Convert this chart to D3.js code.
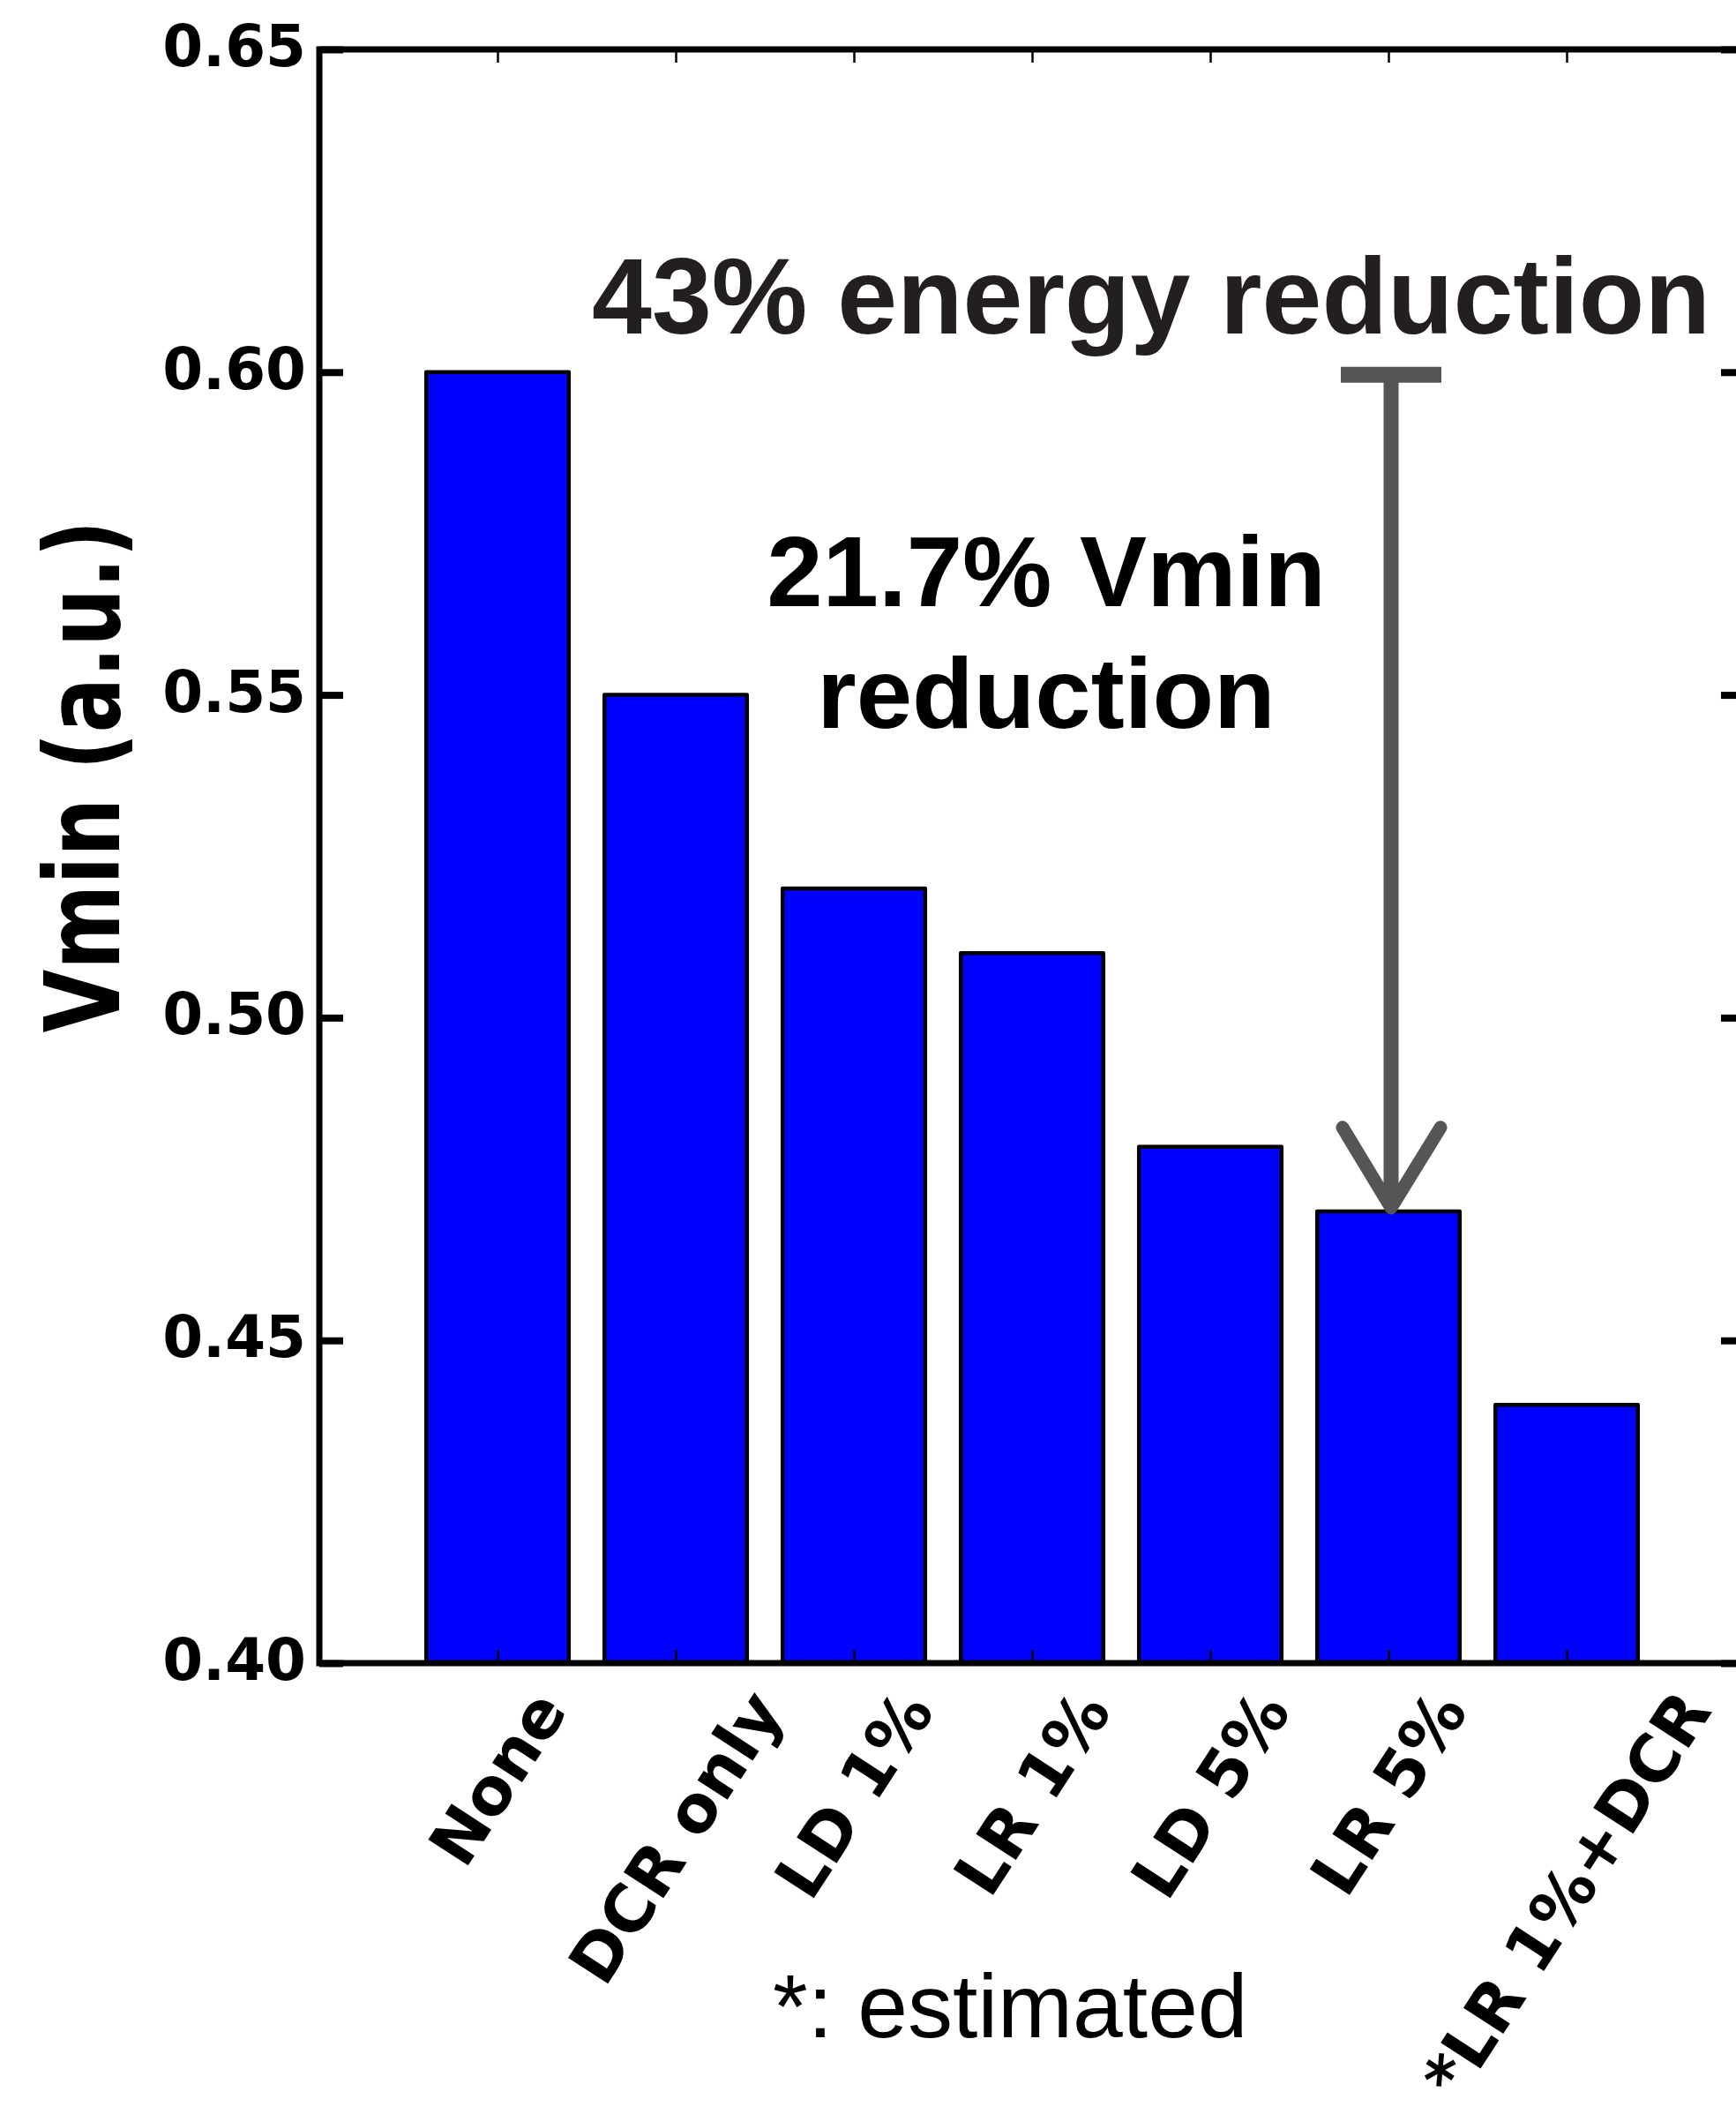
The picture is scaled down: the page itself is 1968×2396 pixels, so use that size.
<!DOCTYPE html>
<html>
<head>
<meta charset="utf-8">
<script src="https://cdn.jsdelivr.net/npm/d3@7"></script>
<style>
  html, body { margin: 0; padding: 0; background: #fff; }
  svg { display: block; }
</style>
</head>
<body>
<script>
// Vmin per technique (a.u.)
const categories = ["None", "DCR only", "LD 1%", "LR 1%", "LD 5%", "LR 5%", "*LR 1%+DCR"];
const vmin = [0.60, 0.55, 0.52, 0.51, 0.48, 0.47, 0.44];
const yTicks = [0.40, 0.45, 0.50, 0.55, 0.60, 0.65];
const energyNote = "43% energy reduction";
const vminNote = ["21.7% Vmin", "reduction"];
const footNote = "*: estimated";
const yTitle = "Vmin (a.u.)";
// annotated arrow: from the baseline level down to the "LR 5%" bar
const arrowFrom = 0.60;
const arrowTo = vmin[5];
const arrowAt = 5;

const W = 1968, H = 2396;
const plotL = 362, plotR = 1978, plotT = 56, plotB = 1885;

const svg = d3.select("body").append("svg")
  .attr("width", W).attr("height", H)
  .style("background", "#fff");

const x = d3.scaleLinear().domain([0, categories.length + 1]).range([plotL, plotR]);
const y = d3.scaleLinear().domain([0.40, 0.65]).range([plotB, plotT]);
const barW = 0.8;

const boldSans = "'DejaVu Sans', sans-serif";
const arial = "'Liberation Sans', Arial, sans-serif";

// bars
svg.append("g").selectAll("rect").data(vmin).join("rect")
  .attr("x", (d, i) => x(i + 1 - barW / 2))
  .attr("width", (d, i) => x(i + 1 + barW / 2) - x(i + 1 - barW / 2))
  .attr("y", d => y(d))
  .attr("height", d => y(0.40) - y(d))
  .attr("fill", "#0000ff")
  .attr("stroke", "#000")
  .attr("stroke-width", 4.5)
  .attr("stroke-linejoin", "round");

const idx = d3.range(1, categories.length + 1);

// left axis: thick inward ticks with bold labels
const gl = svg.append("g").attr("transform", `translate(${plotL},0)`)
  .call(d3.axisLeft(y).tickValues(yTicks).tickFormat(d3.format(".2f"))
    .tickSizeInner(-27).tickSizeOuter(0).tickPadding(15));
gl.select(".domain").remove();
gl.selectAll(".tick line").attr("stroke", "#000").attr("stroke-width", 8);
gl.selectAll(".tick text")
  .attr("font-family", boldSans).attr("font-weight", "bold")
  .attr("font-size", 66).attr("fill", "#000").attr("dy", "0.28em");

// right axis: inward ticks, no labels
const gr = svg.append("g").attr("transform", `translate(${plotR},0)`)
  .call(d3.axisRight(y).tickValues(yTicks).tickFormat("")
    .tickSizeInner(-27).tickSizeOuter(0));
gr.select(".domain").remove();
gr.selectAll(".tick line").attr("stroke", "#000").attr("stroke-width", 8);

// top and bottom axes: thin inward ticks at bar centres
const gt = svg.append("g").attr("transform", `translate(0,${plotT})`)
  .call(d3.axisTop(x).tickValues(idx).tickFormat("").tickSizeInner(-15).tickSizeOuter(0));
gt.select(".domain").remove();
gt.selectAll(".tick line").attr("stroke", "#000").attr("stroke-width", 2.5);

const gb = svg.append("g").attr("transform", `translate(0,${plotB})`)
  .call(d3.axisBottom(x).tickValues(idx).tickFormat("").tickSizeInner(-15).tickSizeOuter(0));
gb.select(".domain").remove();
gb.selectAll(".tick line").attr("stroke", "#000").attr("stroke-width", 2.5);

// frame
svg.append("rect")
  .attr("x", plotL).attr("y", plotT)
  .attr("width", plotR - plotL).attr("height", plotB - plotT)
  .attr("fill", "none").attr("stroke", "#000").attr("stroke-width", 7);

// rotated category labels, bounding box centred under each tick
const rot = 57, th = rot * Math.PI / 180;
const labelTop = 1910;
const labs = svg.append("g").selectAll("text").data(categories).join("text")
  .text(d => d)
  .attr("font-family", boldSans).attr("font-weight", "bold")
  .attr("font-size", 74).attr("fill", "#000")
  .attr("text-anchor", "middle").attr("dominant-baseline", "central");
labs.each(function (d, i) {
  const L = this.getComputedTextLength();
  const h = 74 * 0.74;
  const bh = L * Math.sin(th) + h * Math.cos(th);
  const cx = x(i + 1), cy = labelTop + bh / 2;
  d3.select(this).attr("x", cx).attr("y", cy)
    .attr("transform", `rotate(${-rot},${cx},${cy})`);
});

// y-axis title
svg.append("text")
  .text(yTitle)
  .attr("font-family", boldSans).attr("font-weight", "bold")
  .attr("font-size", 117).attr("fill", "#000")
  .attr("text-anchor", "middle")
  .attr("textLength", 581).attr("lengthAdjust", "spacingAndGlyphs")
  .attr("transform", "translate(135,880) rotate(-90)");

// annotation arrow
const ax = x(arrowAt + 1) + 3;
const ay0 = y(arrowFrom) + 3, ay1 = y(arrowTo) - 4;
const grey = "#555557";
const ga = svg.append("g");
ga.append("line").attr("x1", ax - 57).attr("x2", ax + 57).attr("y1", ay0).attr("y2", ay0)
  .attr("stroke", grey).attr("stroke-width", 18);
ga.append("line").attr("x1", ax).attr("x2", ax).attr("y1", ay0).attr("y2", ay1 - 12)
  .attr("stroke", grey).attr("stroke-width", 17);
ga.append("path")
  .attr("d", `M${ax - 55},${ay1 - 91} L${ax},${ay1} L${ax + 56},${ay1 - 91}`)
  .attr("fill", "none").attr("stroke", grey).attr("stroke-width", 15)
  .attr("stroke-linecap", "round").attr("stroke-linejoin", "round");

// annotation texts
svg.append("text").text(energyNote)
  .attr("x", 1305).attr("y", 378)
  .attr("font-family", arial).attr("font-weight", "bold")
  .attr("font-size", 122).attr("fill", "#231f20")
  .attr("text-anchor", "middle");

svg.append("g").selectAll("text").data(vminNote).join("text")
  .text(d => d)
  .attr("x", 1186).attr("y", (d, i) => 687 + i * 138)
  .attr("font-family", arial).attr("font-weight", "bold")
  .attr("font-size", 114).attr("fill", "#000")
  .attr("text-anchor", "middle");

svg.append("text").text(footNote)
  .attr("x", 876).attr("y", 2309)
  .attr("font-family", arial)
  .attr("font-size", 102).attr("fill", "#000");
</script>
</body>
</html>
